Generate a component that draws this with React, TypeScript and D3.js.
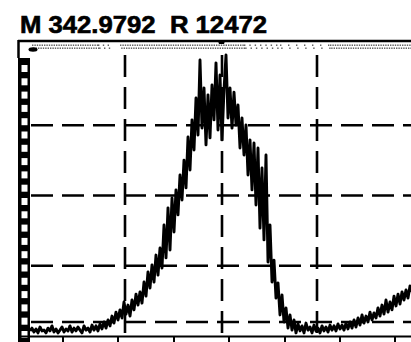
import React from "react";
import * as d3 from "d3";

const TITLE = "M 342.9792  R 12472";

// relative intensity (%) sampled every index step across the scan
const intensity: number[] = [
  1.8, 2.8, 1.4, 2.5, 1.1, 3.2, 1.8, 2.1, 1.1, 2.8,
  1.8, 3.6, 1.4, 2.5, 1.1, 2.1, 3.2, 1.4, 2.5, 1.8,
  3.6, 1.4, 2.8, 1.8, 3.2, 2.1, 1.1, 3.6, 2.1, 2.8,
  1.4, 3.9, 2.1, 3.6, 1.8, 4.3, 2.5, 5.0, 2.8, 5.7,
  3.6, 7.1, 4.6, 8.5, 5.7, 9.3, 6.4, 12.1, 7.8, 11.0,
  7.1, 12.8, 9.3, 14.9, 11.0, 15.7, 11.7, 19.2, 14.2, 22.8,
  17.1, 25.3, 19.2, 28.8, 21.7, 31.3, 24.2, 39.5, 27.8, 45.6,
  30.6, 49.1, 37.0, 52.0, 43.1, 57.3, 48.4, 62.6, 52.7, 70.8,
  59.1, 76.9, 66.2, 84.7, 71.5, 98.2, 74.0, 88.3, 68.0, 85.8,
  70.5, 89.3, 76.9, 97.2, 73.3, 92.9, 69.8, 87.5, 100, 77.6,
  88.3, 74.0, 86.8, 75.1, 82.2, 66.9, 77.6, 64.4, 75.1, 57.3,
  69.8, 52.0, 68.7, 46.6, 66.9, 38.4, 59.8, 34.2, 64.4, 26.3,
  39.5, 19.2, 27.0, 13.5, 18.9, 7.5, 14.6, 5.0, 10.0, 2.8,
  7.5, 2.1, 5.7, 1.1, 4.3, 1.8, 3.6, 1.1, 4.6, 2.1,
  3.2, 1.1, 3.9, 1.8, 2.8, 1.1, 3.6, 1.8, 3.2, 1.4,
  3.9, 2.1, 3.6, 1.8, 4.3, 2.5, 3.9, 2.1, 4.6, 2.5,
  5.0, 2.8, 5.7, 3.2, 6.4, 3.9, 7.5, 4.6, 7.1, 5.0,
  8.5, 5.7, 8.2, 6.4, 10.0, 7.1, 11.0, 7.8, 12.8, 8.5,
  12.1, 9.3, 14.2, 10.7, 14.9, 11.4, 15.7, 12.8, 16.4, 13.5,
  17.8, 15.7,
];

const gridX: number[] = [47.5, 96, 143.5];
const gridY: number[] = [5, 25, 50, 75];
const tickX: number[] = [16.5, 44, 72, 99.5, 127.5, 155, 182.5];
// dotted noise strip along the top: [start, end, density]
const topNoise: [number, number, number][] = [
  [1, 34, 1], [34, 41, 0.5], [45, 107, 1], [107, 125, 0.45],
  [125, 150, 0.3], [150, 191, 1],
];

const W = 411;
const H = 342;

export default function App() {
  const x = d3.scaleLinear().domain([0, intensity.length - 1]).range([30, 412]);
  const y = d3.scaleLinear().domain([0, 100]).range([336, 55]);
  const line = d3
    .line<number>()
    .x((_, i) => x(i))
    .y((d) => y(d));

  const ladderStart = 58;
  const squares: number[] = d3.range(65, H, 13.3);

  const dots: { cx: number; cy: number }[] = [];
  topNoise.forEach(([a, b, dens]) => {
    const step = 2.4 / dens;
    for (let v = x(a); v < x(b); v += step) {
      dots.push({ cx: v, cy: 44.5 });
      dots.push({ cx: v + 1.2, cy: 47.5 });
    }
  });

  return (
    <svg
      width={W}
      height={H}
      style={{ position: "absolute", left: 0, top: 0, background: "#fff" }}
    >
      <rect x={0} y={0} width={W} height={H} fill="#fff" />
      <text
        x={20}
        y={33}
        fontFamily="'Liberation Sans', Arial, sans-serif"
        fontWeight="bold"
        fontSize={23}
        textLength={247}
        lengthAdjust="spacingAndGlyphs"
        fill="#000"
        stroke="#000"
        strokeWidth={0.6}
        style={{ whiteSpace: "pre" }}
      >
        {TITLE}
      </text>

      {/* top noise strip */}
      {dots.map((d, i) => (
        <rect key={i} x={d.cx} y={d.cy} width={1.4} height={1.4} fill="#555" />
      ))}

      {/* grid */}
      {gridY.map((g) => (
        <line
          key={"gy" + g}
          x1={31}
          x2={W}
          y1={y(g)}
          y2={y(g)}
          stroke="#000"
          strokeWidth={2.6}
          strokeDasharray="22 9"
        />
      ))}
      {gridX.map((g) => (
        <line
          key={"gx" + g}
          x1={x(g)}
          x2={x(g)}
          y1={y(100)}
          y2={336}
          stroke="#000"
          strokeWidth={2.6}
          strokeDasharray="22 10"
        />
      ))}

      {/* spectrum trace */}
      <path
        d={line(intensity) || ""}
        fill="none"
        stroke="#000"
        strokeWidth={2.9}
        strokeLinejoin="round"
      />

      {/* frame */}
      <line x1={18} x2={W} y1={41} y2={41} stroke="#000" strokeWidth={2.5} />
      <line x1={18.5} x2={18.5} y1={40} y2={ladderStart} stroke="#000" strokeWidth={2.5} />
      <rect x={18} y={ladderStart} width={12} height={H - ladderStart} fill="#000" />
      {squares.map((s) => (
        <rect key={"sq" + s} x={21.5} y={s} width={6} height={7} fill="#fff" />
      ))}
      <line x1={18} x2={W} y1={336.5} y2={336.5} stroke="#000" strokeWidth={2} />
      {tickX.map((t) => (
        <line key={"t" + t} x1={x(t)} x2={x(t)} y1={337} y2={H} stroke="#000" strokeWidth={2} />
      ))}
      {/* marker blobs */}
      <ellipse cx={33} cy={49.5} rx={4.5} ry={2.2} fill="#000" />
      <path d={`M${x(94)},41 L${x(97.5)},41 L${x(97)},44 L${x(94.5)},44 Z`} fill="#000" />
    </svg>
  );
}
